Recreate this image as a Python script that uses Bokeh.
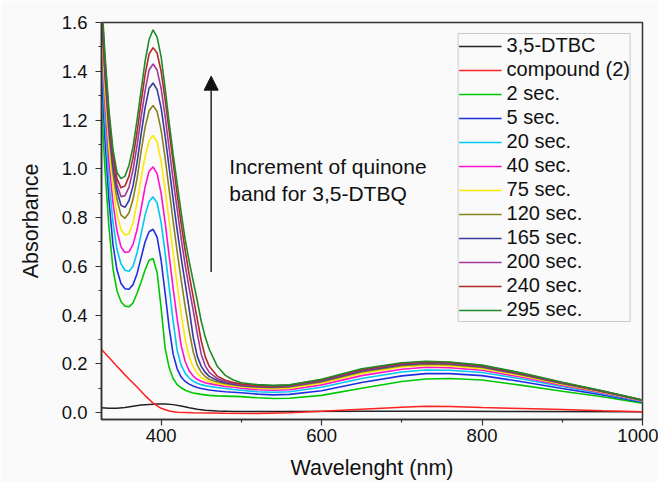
from bokeh.plotting import figure
from bokeh.models import Range1d, Arrow, NormalHead, Label, FixedTicker, PrintfTickFormatter
from bokeh.embed import file_html
from bokeh.resources import INLINE

# ---------------- data ----------------
wavelength = [325, 330, 335, 340, 345, 350, 355, 360, 365, 370, 375, 380, 385, 390, 395,
              400, 405, 410, 415, 420, 425, 430, 435, 440, 445, 450, 455, 460, 470, 480,
              490, 500, 520, 540, 560, 600, 650, 700, 730, 760, 800, 850, 900, 950, 1000]

sec_2 = [1.30, 1.00, 0.76, 0.59, 0.50, 0.455, 0.437, 0.434, 0.45, 0.49, 0.535, 0.585, 0.625, 0.632, 0.575,
         0.43, 0.265, 0.185, 0.14, 0.115, 0.102, 0.092, 0.086, 0.081, 0.078, 0.075, 0.073, 0.071, 0.069, 0.068,
         0.067, 0.066, 0.061, 0.058, 0.059, 0.071, 0.100, 0.128, 0.138, 0.140, 0.134, 0.112, 0.088, 0.065, 0.039]
sec_5 = [1.45, 1.12, 0.87, 0.69, 0.585, 0.53, 0.508, 0.506, 0.525, 0.57, 0.635, 0.70, 0.742, 0.752, 0.72,
         0.625, 0.49, 0.35, 0.24, 0.18, 0.146, 0.128, 0.117, 0.109, 0.103, 0.099, 0.096, 0.093, 0.089, 0.086,
         0.084, 0.082, 0.076, 0.073, 0.075, 0.090, 0.124, 0.151, 0.160, 0.160, 0.152, 0.127, 0.099, 0.073, 0.043]
sec_20 = [1.52, 1.20, 0.95, 0.78, 0.67, 0.61, 0.584, 0.58, 0.60, 0.655, 0.73, 0.81, 0.866, 0.885, 0.86,
          0.78, 0.655, 0.515, 0.375, 0.255, 0.195, 0.162, 0.142, 0.129, 0.121, 0.115, 0.111, 0.108, 0.103, 0.099,
          0.095, 0.092, 0.086, 0.084, 0.086, 0.104, 0.140, 0.167, 0.175, 0.174, 0.165, 0.138, 0.107, 0.078, 0.046]
sec_40 = [1.58, 1.27, 1.03, 0.86, 0.745, 0.68, 0.657, 0.66, 0.69, 0.75, 0.835, 0.925, 0.99, 1.008, 0.98,
          0.90, 0.78, 0.645, 0.51, 0.385, 0.275, 0.21, 0.172, 0.15, 0.137, 0.129, 0.123, 0.119, 0.113, 0.108,
          0.104, 0.100, 0.094, 0.092, 0.094, 0.114, 0.152, 0.178, 0.186, 0.184, 0.174, 0.145, 0.112, 0.081, 0.048]
sec_75 = [1.62, 1.32, 1.09, 0.93, 0.815, 0.75, 0.728, 0.735, 0.78, 0.86, 0.96, 1.05, 1.115, 1.137, 1.11,
          1.03, 0.915, 0.785, 0.655, 0.525, 0.405, 0.30, 0.228, 0.187, 0.162, 0.145, 0.135, 0.128, 0.120, 0.114,
          0.110, 0.106, 0.100, 0.098, 0.100, 0.121, 0.161, 0.187, 0.194, 0.192, 0.180, 0.151, 0.116, 0.084, 0.049]
sec_120 = [1.66, 1.37, 1.14, 0.98, 0.875, 0.81, 0.797, 0.82, 0.875, 0.96, 1.07, 1.17, 1.238, 1.26, 1.235,
           1.16, 1.045, 0.915, 0.785, 0.66, 0.545, 0.435, 0.335, 0.25, 0.195, 0.166, 0.148, 0.137, 0.126, 0.119,
           0.114, 0.110, 0.104, 0.102, 0.105, 0.126, 0.167, 0.193, 0.199, 0.197, 0.185, 0.155, 0.119, 0.086, 0.050]
sec_165 = [1.68, 1.40, 1.17, 1.01, 0.91, 0.85, 0.842, 0.87, 0.93, 1.025, 1.14, 1.25, 1.33, 1.352, 1.325,
           1.25, 1.135, 1.005, 0.875, 0.75, 0.635, 0.53, 0.425, 0.31, 0.232, 0.19, 0.165, 0.149, 0.132, 0.123,
           0.117, 0.112, 0.106, 0.105, 0.108, 0.130, 0.171, 0.197, 0.203, 0.201, 0.188, 0.157, 0.121, 0.087, 0.051]
sec_200 = [1.70, 1.43, 1.20, 1.04, 0.935, 0.886, 0.89, 0.925, 0.995, 1.095, 1.21, 1.32, 1.405, 1.43, 1.405,
           1.33, 1.215, 1.085, 0.955, 0.835, 0.715, 0.605, 0.51, 0.42, 0.325, 0.24, 0.192, 0.165, 0.14, 0.127,
           0.12, 0.114, 0.108, 0.107, 0.110, 0.132, 0.174, 0.200, 0.206, 0.203, 0.191, 0.159, 0.122, 0.088, 0.051]
sec_240 = [1.72, 1.45, 1.22, 1.06, 0.96, 0.922, 0.93, 0.97, 1.045, 1.15, 1.27, 1.385, 1.47, 1.497, 1.475,
           1.40, 1.285, 1.155, 1.025, 0.895, 0.775, 0.665, 0.565, 0.475, 0.385, 0.295, 0.23, 0.19, 0.15, 0.133,
           0.124, 0.118, 0.111, 0.110, 0.113, 0.135, 0.177, 0.202, 0.208, 0.206, 0.193, 0.161, 0.124, 0.089, 0.052]
sec_295 = [1.75, 1.47, 1.24, 1.08, 0.985, 0.96, 0.97, 1.015, 1.09, 1.20, 1.32, 1.44, 1.53, 1.57, 1.54,
           1.46, 1.33, 1.19, 1.06, 0.94, 0.82, 0.71, 0.62, 0.54, 0.46, 0.375, 0.31, 0.26, 0.19, 0.153,
           0.134, 0.123, 0.115, 0.112, 0.114, 0.137, 0.180, 0.205, 0.211, 0.208, 0.195, 0.163, 0.125, 0.090, 0.052]

dtbc_wl = [325, 335, 345, 355, 365, 375, 385, 395, 405, 415, 425, 435, 445, 455, 470, 490, 550, 650, 750, 850, 1000]
dtbc = [0.020, 0.018, 0.018, 0.021, 0.026, 0.031, 0.034, 0.036, 0.036, 0.033, 0.027, 0.020, 0.014, 0.010,
        0.007, 0.005, 0.005, 0.006, 0.006, 0.005, 0.004]

compound_wl = [325, 335, 345, 355, 360, 370, 380, 390, 400, 410, 420, 440, 480, 520, 560, 600, 650, 700,
               730, 760, 800, 850, 900, 950, 1000]
compound = [0.262, 0.226, 0.19, 0.155, 0.138, 0.105, 0.07, 0.039, 0.018, 0.007, 0.002, 0.0, -0.002, -0.003,
            0.0, 0.006, 0.014, 0.022, 0.026, 0.025, 0.021, 0.017, 0.013, 0.008, 0.004]

series_names = ["2 sec.", "5 sec.", "20 sec.", "40 sec.", "75 sec.", "120 sec.", "165 sec.",
                "200 sec.", "240 sec.", "295 sec."]
series_values = [sec_2, sec_5, sec_20, sec_40, sec_75, sec_120, sec_165, sec_200, sec_240, sec_295]
series_colors = ["#00c800", "#1f2fe0", "#00c8f0", "#ff10d0", "#ffe800", "#8a8020", "#343c9c",
                 "#a0389a", "#b02828", "#208a28"]

x_ticks = [400, 600, 800, 1000]
x_minor = [500, 700, 900]
y_ticks = [0.0, 0.2, 0.4, 0.6, 0.8, 1.0, 1.2, 1.4, 1.6]
y_minor = [0.1, 0.3, 0.5, 0.7, 0.9, 1.1, 1.3, 1.5]

FONT = "Liberation Sans"
BG = "#fafafa"

# ---------------- figure ----------------
p = figure(width=658, height=482, output_backend="svg", toolbar_location=None,
           x_range=Range1d(325.7, 1000), y_range=Range1d(-0.028, 1.6),
           min_border_left=101, min_border_right=16, min_border_top=22, min_border_bottom=60,
           background_fill_color=BG, border_fill_color=BG)
p.grid.visible = False
p.outline_line_color = "#333333"
p.outline_line_width = 1.5

p.line(dtbc_wl, dtbc, color="#222222", line_width=1.5, legend_label="3,5-DTBC")
p.line(compound_wl, compound, color="#ff2020", line_width=1.5, legend_label="compound (2)")
for name, vals, col in zip(series_names, series_values, series_colors):
    p.line(wavelength, vals, color=col, line_width=1.6, legend_label=name)

# axes
p.xaxis.ticker = FixedTicker(ticks=x_ticks, minor_ticks=x_minor)
p.yaxis.ticker = FixedTicker(ticks=y_ticks, minor_ticks=y_minor)
p.yaxis.formatter = PrintfTickFormatter(format="%.1f")
for ax in (p.xaxis[0], p.yaxis[0]):
    ax.axis_line_color = "#333333"
    ax.axis_line_width = 1.5
    ax.major_tick_line_color = "#333333"
    ax.minor_tick_line_color = "#333333"
    ax.major_tick_line_width = 1.2
    ax.minor_tick_line_width = 1.2
    ax.major_tick_in = 0
    ax.major_tick_out = 6
    ax.minor_tick_in = 0
    ax.minor_tick_out = 3
    ax.major_label_text_font = FONT
    ax.major_label_text_font_size = "18.5px"
    ax.major_label_text_color = "#111111"
    ax.axis_label_text_font = FONT
    ax.axis_label_text_font_size = "21.5px"
    ax.axis_label_text_font_style = "normal"
    ax.axis_label_text_color = "#111111"
p.xaxis.axis_label = "Wavelenght (nm)"
p.yaxis.axis_label = "Absorbance"
p.xaxis.major_label_standoff = 3
p.xaxis.axis_label_standoff = 11
p.yaxis.major_label_standoff = 8
p.yaxis.axis_label_standoff = 16

# legend
lg = p.legend[0]
lg.location = "top_right"
lg.margin = 11
lg.border_line_color = "#9a9a9a"
lg.border_line_width = 1
lg.background_fill_color = BG
lg.background_fill_alpha = 1
lg.label_text_font = FONT
lg.label_text_font_size = "20px"
lg.label_text_color = "#111111"
lg.glyph_width = 43
lg.glyph_height = 20
lg.label_height = 20
lg.spacing = 1
lg.padding = 0
lg.label_standoff = 5

# annotation
p.add_layout(Arrow(end=NormalHead(size=14, fill_color="#111111", line_color="#111111"),
                   x_start=462.4, y_start=0.577, x_end=462.4, y_end=1.38,
                   line_color="#333333", line_width=1.6))
p.add_layout(Label(x=485, y=1.01, text="Increment of quinone", text_baseline="middle",
                   text_font=FONT, text_font_size="21px", text_color="#111111"))
p.add_layout(Label(x=485, y=0.898, text="band for 3,5-DTBQ", text_baseline="middle",
                   text_font=FONT, text_font_size="21px", text_color="#111111"))

open("out.html", "w").write(file_html(p, INLINE))
